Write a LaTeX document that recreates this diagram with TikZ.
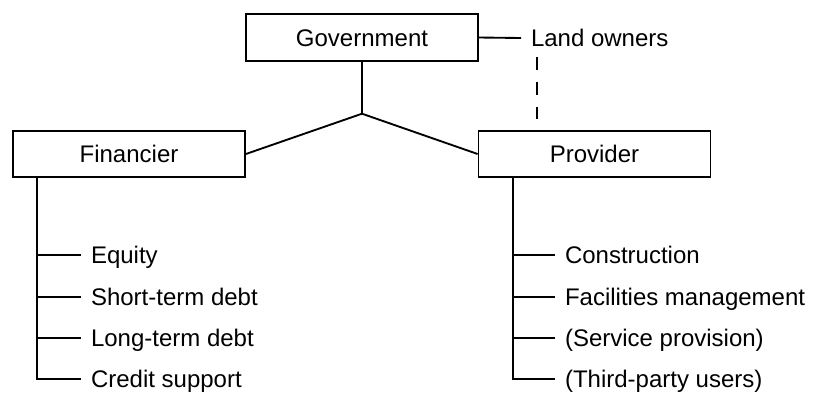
\documentclass[tikz,border=0pt]{standalone}
\usepackage{fontspec}
\setmainfont{Liberation Sans}
\usepackage{tikz}
\usetikzlibrary{calc}
\tikzset{
  entite/.style={draw,line width=1.3pt,minimum width=174pt,minimum height=35pt,
                 inner sep=0pt,text height=12.9pt,text depth=0pt,font=\fontsize{18}{21}\selectfont},
  rubrique/.style={anchor=west,inner sep=0pt,outer sep=7.5pt,text height=12.9pt,
                   text depth=0pt,font=\fontsize{18}{21}\selectfont},
  lien/.style={line width=1.4pt},
  tiret/.style={line width=1.4pt,dash pattern=on 10pt off 9pt},
}

\begin{document}
\begin{tikzpicture}[x=0.75pt,y=-0.75pt]
  \useasboundingbox (0,0) rectangle (816,394);
  \node[entite] (gov) at (362,37.5) {Government};
  \node[entite] (fin) at (129,154) {Financier};
  \node[entite] (prov) at (594.5,154) {Provider};
  \node[rubrique] (land) at (521,38) {Land owners};
  \coordinate (j) at ($(gov.south)+(0,52)$);
  \draw[lien] (gov.east) -- (land.west);
  \draw[tiret,shorten >=8pt] ([xshift=12pt]land.south west) -- ([xshift=12pt]land.south west |- prov.north);
  \draw[lien] (gov.south) -- (j);
  \draw[lien] (fin.east) -- (j) -- (prov.west);
  % financement
  \node[rubrique] (eq) at (81,255) {Equity};
  \node[rubrique] (sd) at (81,297) {Short-term debt};
  \node[rubrique] (ld) at (81,338) {Long-term debt};
  \node[rubrique] (cs) at (81,379) {Credit support};
  \draw[lien] (fin.south west) ++(25,0) coordinate (tf) |- (cs.west);
  \draw[lien] (eq.west) -- (eq.west -| tf);
  \draw[lien] (sd.west) -- (sd.west -| tf);
  \draw[lien] (ld.west) -- (ld.west -| tf);
  % prestations
  \node[rubrique] (co) at (555,255) {Construction};
  \node[rubrique] (fm) at (555,297) {Facilities management};
  \node[rubrique] (sp) at (555,338) {(Service provision)};
  \node[rubrique] (tu) at (555,379) {(Third-party users)};
  \draw[lien] (prov.south west) ++(35,0) coordinate (tp) |- (tu.west);
  \draw[lien] (co.west) -- (co.west -| tp);
  \draw[lien] (fm.west) -- (fm.west -| tp);
  \draw[lien] (sp.west) -- (sp.west -| tp);
\end{tikzpicture}
\end{document}
